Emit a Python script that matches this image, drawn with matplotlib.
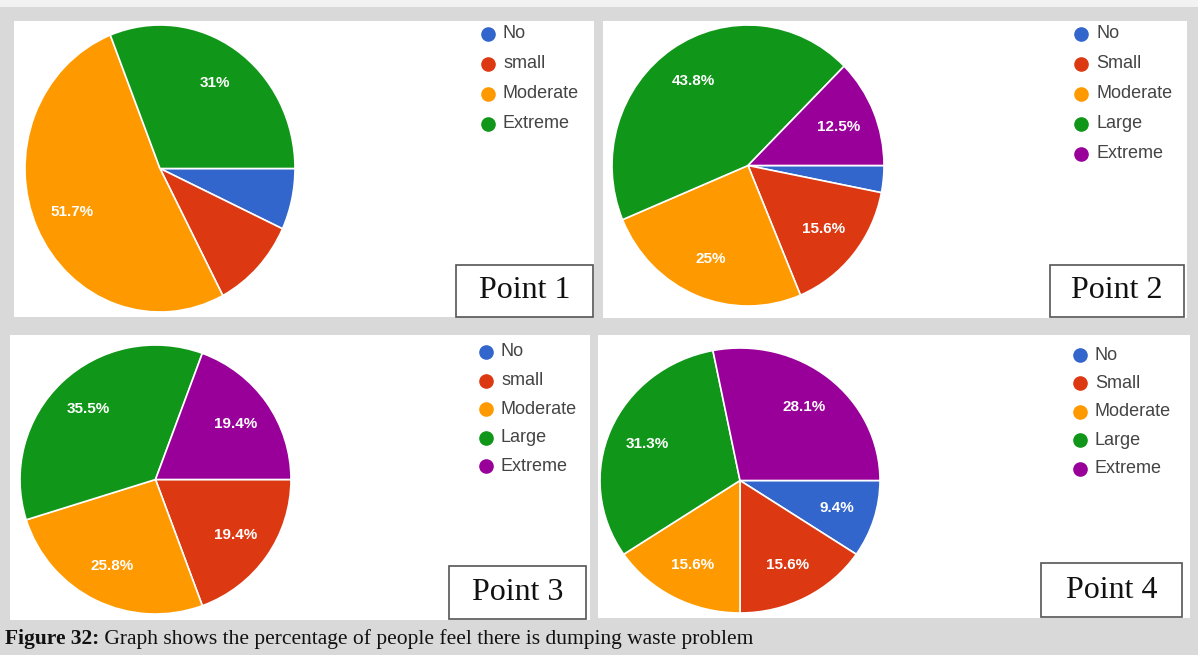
import numpy as np
import matplotlib
matplotlib.use("Agg")
import matplotlib.pyplot as plt
from matplotlib.patches import Rectangle
from matplotlib.lines import Line2D

# ---- survey data (percent of respondents) ----
categories1 = ["No", "small", "Moderate", "Extreme"]
values1 = [6.9, 10.4, 51.7, 31.0]
shown1 = [False, False, True, True]

categories2 = ["No", "Small", "Moderate", "Large", "Extreme"]
values2 = [3.1, 15.6, 25.0, 43.8, 12.5]
shown2 = [False, True, True, True, True]

categories3 = ["No", "small", "Moderate", "Large", "Extreme"]
values3 = [0.0, 19.4, 25.8, 35.5, 19.4]
shown3 = [False, True, True, True, True]

categories4 = ["No", "Small", "Moderate", "Large", "Extreme"]
values4 = [9.4, 15.6, 15.6, 31.3, 28.1]
shown4 = [True, True, True, True, True]

point_titles = ["Point 1", "Point 2", "Point 3", "Point 4"]
caption_bold = "Figure 32:"
caption_text = " Graph shows the percentage of people feel there is dumping waste problem"

BLUE, RED, ORANGE, GREEN, PURPLE = "#3366cc", "#dc3912", "#ff9900", "#109618", "#990099"
colors1 = [BLUE, RED, ORANGE, GREEN]
colors_5 = [BLUE, RED, ORANGE, GREEN, PURPLE]

W, H = 1198, 655
fig = plt.figure(figsize=(W / 100, H / 100), dpi=100)
fig.patch.set_facecolor("#d9d9d9")


def rect(x0, y0, x1, y1):
    return [x0 / W, 1 - y1 / H, (x1 - x0) / W, (y1 - y0) / H]


def fig_box(x0, y0, x1, y1, **kw):
    r = Rectangle((x0 / W, 1 - y1 / H), (x1 - x0) / W, (y1 - y0) / H,
                  transform=fig.transFigure, **kw)
    fig.add_artist(r)


def fmt(v):
    s = f"{v:.1f}"
    if s.endswith(".0"):
        s = s[:-2]
    return s + "%"


# light strip along the top edge
fig_box(0, 0, W, 7, facecolor="#f2f2f2", edgecolor="none", zorder=-6)

panels = [
    dict(panel=(14, 21, 594, 317), pie=(25, 25, 295, 312),
         legend=(488, 34, 30), box=(456, 265, 593, 317),
         cats=categories1, vals=values1, shown=shown1, cols=colors1),
    dict(panel=(603, 21, 1187, 318), pie=(612, 25, 884, 306),
         legend=(1081, 34, 30), box=(1050, 265, 1184, 317),
         cats=categories2, vals=values2, shown=shown2, cols=colors_5),
    dict(panel=(10, 335, 590, 620), pie=(20, 345, 291, 614),
         legend=(486, 352, 28.6), box=(449, 566, 586, 619),
         cats=categories3, vals=values3, shown=shown3, cols=colors_5),
    dict(panel=(598, 335, 1190, 618), pie=(600, 348, 880, 613),
         legend=(1080, 355, 28.4), box=(1041, 563, 1182, 617),
         cats=categories4, vals=values4, shown=shown4, cols=colors_5),
]

for i, p in enumerate(panels):
    fig_box(*p["panel"], facecolor="white", edgecolor="none", zorder=-5)

    ax = fig.add_axes(rect(*p["pie"]))
    wedges, _ = ax.pie(p["vals"], colors=p["cols"], startangle=0,
                       counterclock=False,
                       wedgeprops=dict(edgecolor="white", linewidth=1.2))
    ax.set_aspect("auto")
    ax.set_xlim(-1, 1)
    ax.set_ylim(-1, 1)
    ax.axis("off")

    for w, v, show in zip(wedges, p["vals"], p["shown"]):
        if not show:
            continue
        mid = np.deg2rad((w.theta1 + w.theta2) / 2)
        ax.text(0.72 * np.cos(mid), 0.72 * np.sin(mid), fmt(v),
                ha="center", va="center", color="white", fontsize=11,
                fontweight="bold", family="Liberation Sans")

    # legend
    lx, ly, step = p["legend"]
    for k, (c, col) in enumerate(zip(p["cats"], p["cols"])):
        yy = ly + k * step
        fig.add_artist(Line2D([lx / W], [1 - yy / H], marker="o",
                              markersize=9.5, color=col, linestyle="none",
                              transform=fig.transFigure))
        fig.text((lx + 15) / W, 1 - yy / H, c, ha="left", va="center",
                 fontsize=13, color="#444444", family="Liberation Sans")

    # "Point N" tag
    bx0, by0, bx1, by1 = p["box"]
    fig_box(bx0, by0, bx1, by1, facecolor="white", edgecolor="#555555",
            linewidth=1.2, zorder=3)
    fig.text((bx0 + bx1) / 2 / W, 1 - (by0 + by1) / 2 / H, point_titles[i],
             ha="center", va="center", fontsize=23, color="#111111",
             family="Liberation Serif", zorder=4)

# caption
t = fig.text(5 / W, 1 - 639 / H, caption_bold, ha="left", va="center",
             fontsize=15.5, fontweight="bold", color="#111111",
             family="Liberation Serif")
fig.canvas.draw()
bb = t.get_window_extent()
fig.text(bb.x1 / W, 1 - 639 / H, caption_text, ha="left", va="center",
         fontsize=15.5, color="#111111", family="Liberation Serif")

fig.savefig("out.png", dpi=100)
